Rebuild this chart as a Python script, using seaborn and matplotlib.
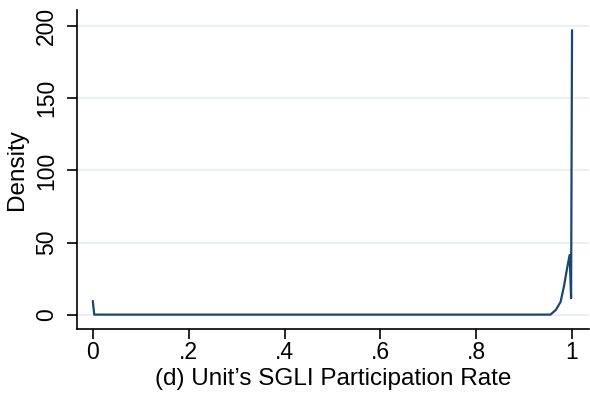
import pandas as pd
import seaborn as sns
import matplotlib.pyplot as plt

# Kernel density estimate
rate = [0.0, 0.003, 0.955, 0.966, 0.976, 0.983, 0.990, 0.995, 0.998, 1.0]
density = [9.7, 0.3, 0.3, 3.5, 9.0, 19.6, 33.0, 41.5, 11.7, 197.0]

x_ticks = [0, 0.2, 0.4, 0.6, 0.8, 1.0]
x_labels = ['0', '.2', '.4', '.6', '.8', '1']
y_ticks = [0, 50, 100, 150, 200]

df = pd.DataFrame({'rate': rate, 'density': density})

sns.set_style('white')
plt.rcParams['font.family'] = ['Liberation Sans', 'DejaVu Sans']
plt.rcParams['text.color'] = 'black'
plt.rcParams['axes.labelcolor'] = 'black'

fig = plt.figure(figsize=(5.9, 3.96), dpi=100)
ax = fig.add_axes([0.1305, 0.169, 0.8675, 0.806])

sns.lineplot(x='rate', y='density', data=df, color='#1a476f', linewidth=1.6, ax=ax)

ax.set_xlim(-0.033, 1.035)
ax.set_ylim(-9.7, 211)
ax.set_xticks(x_ticks)
ax.set_xticklabels(x_labels)
ax.set_yticks(y_ticks)
ax.set_yticklabels([str(v) for v in y_ticks], rotation=90, va='center')

# Horizontal grid lines like in Stata
ax.grid(axis='y', color='#e6eef0', linewidth=1.2)
ax.set_axisbelow(True)

for s in ['top', 'right']:
    ax.spines[s].set_visible(False)
for s in ['left', 'bottom']:
    ax.spines[s].set_color('black')
    ax.spines[s].set_linewidth(1.2)

ax.tick_params(axis='both', direction='out', length=7.2, width=1.2, labelsize=16.5,
               colors='black', bottom=True, left=True)
ax.tick_params(axis='x', pad=1.5)
ax.tick_params(axis='y', pad=6.5)

ax.set_xlabel("(d) Unit\u2019s SGLI Participation Rate", fontsize=17.5, labelpad=3)
ax.set_ylabel('Density', fontsize=17.5, labelpad=5)

plt.savefig('out.png', dpi=100)
